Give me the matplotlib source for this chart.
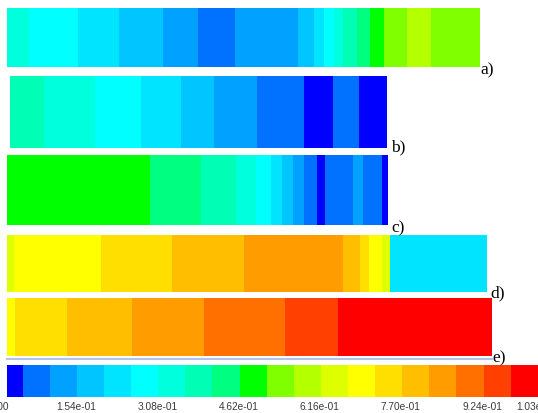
import numpy as np
import matplotlib
matplotlib.use("Agg")
import matplotlib.pyplot as plt
from matplotlib.colors import ListedColormap, BoundaryNorm
from matplotlib.lines import Line2D
from matplotlib.transforms import offset_copy

# ---- contour scale -------------------------------------------------------
vmin, vmax = 0.0, 1.03
n_bands = 20
band_colors = [
    "#0000ff", "#0072ff", "#00a1ff", "#00c5ff", "#00e4ff",
    "#00ffff", "#00ffdd", "#00ffb4", "#00ff80", "#00ff00",
    "#80ff00", "#b4ff00", "#ddff00", "#ffff00", "#ffdf00",
    "#ffbf00", "#ff9c00", "#ff7000", "#ff4000", "#ff0000",
]
tick_values = [0.0, 0.154, 0.308, 0.462, 0.616, 0.770, 0.924, 1.03]

# ---- band layout of each section ------------------------------------------
# edges: distance along the section (same length unit for all sections)
# bands: contour band index between consecutive edges
a_edges = [0, 22.3, 71.3, 112.5, 156, 191.4, 228.4, 291.5, 306.9, 317.2,
           327.5, 336.1, 349.8, 363.5, 376.6, 399.6, 423.6, 472.6]
a_bands = [6, 5, 4, 3, 2, 1, 2, 3, 4, 5, 6, 7, 8, 9, 10, 11, 10]

b_edges = [0, 33.6, 85.1, 130.3, 170.8, 204.1, 247, 293.9, 322.4, 349.2, 376.6]
b_bands = [7, 6, 5, 4, 3, 2, 1, 0, 1, 0]

c_edges = [0, 143, 194.4, 229.1, 248.6, 264.1, 275.1, 286.4, 296.7, 310.4,
           318.3, 346.4, 355.7, 375.5, 381.4]
c_bands = [9, 8, 7, 6, 5, 4, 3, 2, 1, 0, 1, 2, 1, 0]

d_edges = [0, 6.8, 94.3, 164.6, 237.3, 336.1, 353.3, 361.8, 375.5, 383.4, 480.2]
d_bands = [12, 13, 14, 15, 16, 15, 14, 13, 12, 4]

e_edges = [0, 8.5, 60, 125.1, 197.1, 277.8, 331, 485.3]
e_bands = [13, 14, 15, 16, 17, 18, 19]

section_labels = ["a)", "b)", "c)", "d)", "e)"]

# ---- figure ----------------------------------------------------------------
W, H = 538, 414
fig = plt.figure(figsize=(W / 100, H / 100), dpi=100)
fig.patch.set_facecolor("white")

levels = np.linspace(vmin, vmax, n_bands + 1)
step = levels[1] - levels[0]
cmap = ListedColormap(band_colors)
norm = BoundaryNorm(levels, cmap.N)


def px_axes(x0, y0, w, h):
    """Axes placed in pixel units measured from the top-left corner."""
    return fig.add_axes([x0 / W, 1 - (y0 + h) / H, w / W, h / H])


sections = [
    (a_edges, a_bands, 6.9, 9, 59, (480, 74)),
    (b_edges, b_bands, 10.3, 77, 72, (391, 151)),
    (c_edges, c_bands, 6.9, 156, 70, (391, 232)),
    (d_edges, d_bands, 6.9, 236, 57, (490, 297)),
    (e_edges, e_bands, 6.9, 299, 58, (492, 362)),
]

for (edges, bands, x0, y0, h, lab_pos), lab in zip(sections, section_labels):
    ax = px_axes(x0, y0, edges[-1], h)
    vals = levels[np.asarray(bands)] + step / 2
    ax.pcolormesh(np.asarray(edges), [0, 1], vals[np.newaxis, :],
                  cmap=cmap, norm=norm, shading="flat", antialiased=False)
    ax.set_xlim(0, edges[-1])
    ax.set_ylim(0, 1)
    ax.axis("off")
    fig.text(lab_pos[0] / W, 1 - lab_pos[1] / H, lab,
             family="Liberation Serif", fontsize=12.5, color="black",
             ha="left", va="baseline")

# thin outline under the last section
fig.add_artist(Line2D([6.9 / W, 492.2 / W], [1 - 359.5 / H, 1 - 359.5 / H],
                      color="#b4c3eb", lw=1.5))

# ---- colour scale ------------------------------------------------------------
# full scale runs from px -4.4 to 537.8; the visible window starts at px 6.9
cb_full0, cb_full1, cb_view0 = -4.4, 537.8, 6.9
px_per_unit = (cb_full1 - cb_full0) / (vmax - vmin)
view_lo = vmin + (cb_view0 - cb_full0) / px_per_unit
cax = px_axes(cb_view0, 366, cb_full1 - cb_view0, 32)
cax.pcolormesh(levels, [0, 1], ((levels[:-1] + levels[1:]) / 2)[np.newaxis, :],
               cmap=cmap, norm=norm, shading="flat", antialiased=False)
cax.set_xlim(view_lo, vmax)
cax.set_ylim(0, 1)
cax.axis("off")

for i, v in enumerate(tick_values):
    tr = cax.get_xaxis_transform()
    if i == 0:
        tr = offset_copy(tr, fig=fig, x=-8, y=0, units="dots")
    cax.text(v, -0.12, f"{v:.2e}", transform=tr, ha="center", va="top",
             family="Liberation Sans", fontsize=7.3, color="#3a3a3a",
             clip_on=False)

fig.savefig("out.png", dpi=100, facecolor="white")
